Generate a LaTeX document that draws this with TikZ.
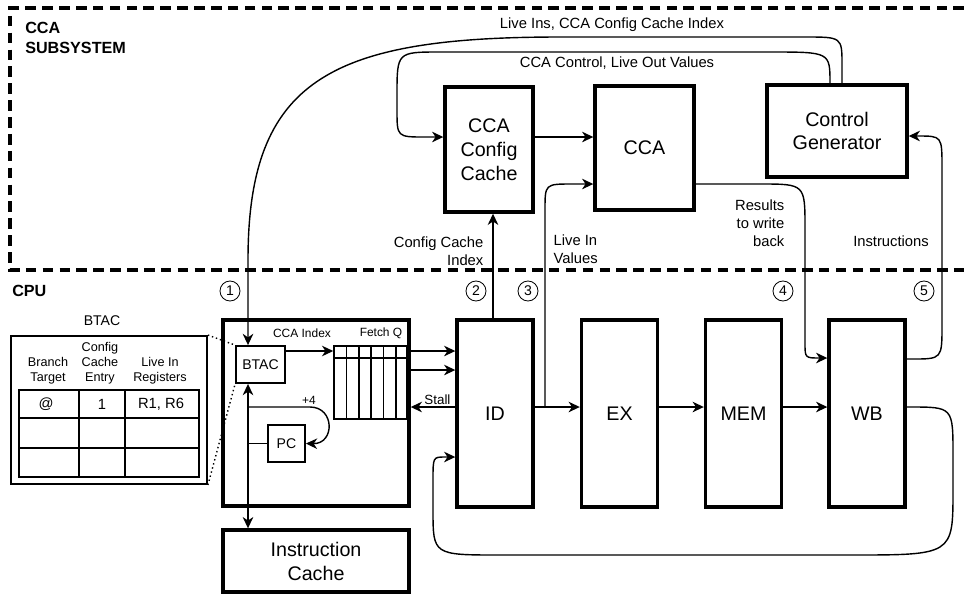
\documentclass[tikz,border=0pt]{standalone}
\usepackage{fontspec}
\setmainfont{Liberation Sans}
\usetikzlibrary{arrows.meta}

\begin{document}
\begin{tikzpicture}[
  x=0.025cm, y=-0.025cm, >={Stealth[length=8pt,width=7.5pt,inset=2.5pt]},
  bigbox/.style={draw, line width=2.4pt, align=center, inner sep=0pt, font=\fontsize{14}{17}\selectfont},
  smallbox/.style={draw, line width=1.3pt, inner sep=0pt, font=\fontsize{10}{12}\selectfont},
  lab/.style={inner sep=1pt, font=\fontsize{10.5}{13}\selectfont},
  tinylab/.style={inner sep=1pt, font=\fontsize{8.5}{10}\selectfont},
  hdr/.style={inner sep=0pt, align=center, font=\fontsize{9}{10.6}\selectfont},
  title/.style={inner sep=0pt, anchor=north west, align=left, font=\bfseries\fontsize{11.5}{14}\selectfont},
  num/.style={circle, draw, line width=0.6pt, inner sep=0pt, minimum size=5mm, font=\fontsize{10}{12}\selectfont},
  conn/.style={->, line width=1pt},
  wire/.style={line width=1pt},
  region/.style={line width=2.2pt, dash pattern=on 7.5pt off 4.5pt}]
\useasboundingbox (0,0) rectangle (964,595);
% regions
\draw[region] (964,8) -- (10,8) -- (10,270) -- (964,270);
\node[title] (sub) at (25,22) {CCA\\SUBSYSTEM};
\node[title] (cpu) at (12,285) {CPU};
% CCA subsystem
\node[bigbox, minimum width=2.2cm, minimum height=3.125cm] (cfgcache) at (489,149.5) {CCA\\Config\\Cache};
\node[bigbox, minimum width=2.475cm, minimum height=3.1cm] (cca) at (644.5,148) {CCA};
\node[bigbox, minimum width=3.5cm, minimum height=2.3cm] (ctrlgen) at (837,131) {Control\\Generator};
% CPU
\node[bigbox, minimum width=4.65cm, minimum height=4.65cm] (fetch) at (316,413) {};
\node[bigbox, minimum width=4.65cm, minimum height=1.55cm] (icache) at (316,561) {Instruction\\Cache};
\foreach \name/\txt/\x in {id/ID/495,ex/EX/619.5,mem/MEM/743.5,wb/WB/867}
  \node[bigbox, minimum width=1.9cm, minimum height=4.675cm] (\name) at (\x,413.5) {\txt};
\node[smallbox, minimum width=1.225cm, minimum height=0.925cm] (btac) at (260.5,364.5) {BTAC};
\node[smallbox, minimum width=0.925cm, minimum height=0.925cm] (pc) at (286.5,443.5) {PC};
\node[draw, line width=1.1pt, minimum width=1.825cm, minimum height=1.825cm] (fq) at (370.5,382.5) {};
\draw[line width=1.1pt] (fq.west |- 0,358) -- (fq.east |- 0,358);
\foreach \x in {346.5,359,371,383.5,396}
  \draw[line width=1.1pt] (fq.north -| \x,0) -- (fq.south -| \x,0);
\node[tinylab] (lccaidx) at (302,333) {CCA Index};
\node[tinylab] (lfq) at (381,333) {Fetch Q};
% BTAC table
\node[font=\fontsize{10}{12}\selectfont] (lbtac) at (102,321) {BTAC};
\node[draw, line width=1.3pt, minimum width=4.9cm, minimum height=3.7cm] (btactab) at (109,410) {};
\node[hdr] (hbr) at (48,370.5) {Branch\\Target};
\node[hdr] (hcfg) at (100,363) {Config\\Cache\\Entry};
\node[hdr] (hlive) at (160,370.5) {Live In\\Registers};
\draw[line width=1.2pt] (19,390) rectangle (199,477);
\foreach \x in {79,125} \draw[line width=1.2pt] (\x,390) -- (\x,477);
\foreach \y in {418,448} \draw[line width=1.2pt] (19,\y) -- (199,\y);
\node[lab] (tat) at (46,404) {@};
\node[lab] (tone) at (102,404) {1};
\node[lab] (tregs) at (161,404) {R1, R6};
\draw[wire, dotted] (btactab.north east) -- (btac.north west);
\draw[wire, dotted] (btactab.south east) -- (btac.south west);
% step numbers
\node[num] (n1) at (230,291) {1};
\node[num] (n2) at (476,291) {2};
\node[num] (n3) at (528,291) {3};
\node[num] (n4) at (783,291) {4};
\node[num] (n5) at (924,291) {5};
% connectors, CCA subsystem
\draw[conn] (ctrlgen.north -| 842,0) -- (842,65) .. controls (842,37) .. (805,37) -- (560,37)
  .. controls (330,37) and (248,80) .. (248,260) -- (btac.north -| 248,0);
\node[lab] (lins) at (612,25) {Live Ins, CCA Config Cache Index};
\draw[conn] (ctrlgen.north -| 830,0) .. controls (830,52) .. (770,52) -- (440,52)
  .. controls (397,52) .. (397,95) -- (397,110) .. controls (397,137) .. (425,137) -- (cfgcache.west |- 0,137);
\node[lab] (lcc) at (617,63) {CCA Control, Live Out Values};
\draw[conn] (cfgcache.east |- 0,137) -- (cca.west |- 0,137);
\draw[conn] (id.north -| 493,0) -- (cfgcache.south -| 493,0);
\node[lab, anchor=east, align=right] (lidx) at (485,251) {Config Cache\\Index};
\draw[conn] (545,407) -- (545,210) .. controls (545,184) .. (572,184) -- (cca.west |- 0,184);
\node[lab, anchor=west, align=left] (lliv) at (552,249) {Live In\\Values};
\draw[conn] (cca.east |- 0,184) -- (760,184) .. controls (805,184) .. (805,228) -- (805,343)
  .. controls (805,358) .. (820,358) -- (wb.west |- 0,358);
\node[lab, anchor=east, align=right] (lres) at (786,223) {Results\\to write\\back};
\draw[conn] (wb.east |- 0,359) -- (912,359) .. controls (942,359) .. (942,325) -- (942,168)
  .. controls (942,136) .. (918,136) -- (ctrlgen.east |- 0,136);
\node[lab] (linstr) at (891,241) {Instructions};
% connectors, CPU
\draw[conn] (btac.east |- 0,351) -- (fq.west |- 0,351);
\foreach \y in {351,370} \draw[conn] (fetch.east |- 0,\y) -- (id.west |- 0,\y);
\draw[conn] (id.west |- 0,407) -- node[pos=0.4, above, inner sep=1pt, font=\fontsize{9.5}{11}\selectfont] (lstall) {Stall} (fetch.east |- 0,407);
\draw[conn, <->] (btac.south -| 248,0) -- (icache.north -| 248,0);
\draw[wire] (pc.west) -- (pc.west -| 248,0);
\draw[conn] (248,407) -- (310,407) .. controls (335,407) and (335,444) .. (pc.east);
\node[tinylab] (lplus) at (309,400) {+4};
\foreach \a/\b in {id/ex,ex/mem,mem/wb} \draw[conn] (\a.east |- 0,407) -- (\b.west |- 0,407);
\draw[conn] (wb.east |- 0,407) -- (910,407) .. controls (953,407) .. (953,455) -- (953,490)
  .. controls (953,555) .. (850,555) -- (500,555) .. controls (433,555) .. (433,510) -- (433,480)
  .. controls (433,457) .. (445,457) -- (id.west |- 0,457);
\end{tikzpicture}
\end{document}
